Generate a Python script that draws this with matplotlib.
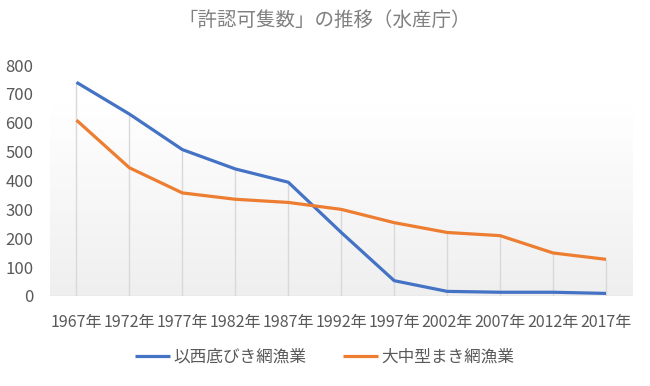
import matplotlib
matplotlib.use("Agg")
import matplotlib.pyplot as plt
import numpy as np
from matplotlib.colors import LinearSegmentedColormap

plt.rcParams['font.family'] = ['Noto Sans CJK JP', 'DejaVu Sans']

years = ["1967年", "1972年", "1977年", "1982年", "1987年", "1992年",
         "1997年", "2002年", "2007年", "2012年", "2017年"]
series_names = ["以西底びき網漁業", "大中型まき網漁業"]
trawl = [740, 630, 507, 440, 394, 220, 53, 16, 13, 13, 9]
purse = [609, 444, 357, 335, 324, 300, 254, 220, 209, 149, 127]
colors = ["#4472C4", "#ED7D31"]

fig = plt.figure(figsize=(6.5, 3.86), dpi=100)
ax = fig.add_axes([50/650, 1 - 296/386, (632.5 - 50)/650, (296 - 65)/386])

x = np.arange(len(years))
ax.set_xlim(-0.5, len(years) - 0.5)
ax.set_ylim(0, 800)

# background gradient
cmap = LinearSegmentedColormap.from_list("g", ["#efefef", "#ffffff"])
grad = np.linspace(0, 1, 256).reshape(-1, 1)
ax.imshow(grad, cmap=cmap, aspect='auto', origin='lower',
          extent=(-0.5, len(years) - 0.5, 0, 660), zorder=0)

# drop lines
tops = np.maximum(trawl, purse)
ax.vlines(x, 0, tops, colors="#d9d9d9", linewidth=1, zorder=1)

for vals, c, n in zip([trawl, purse], colors, series_names):
    ax.plot(x, vals, color=c, linewidth=2.3, label=n, zorder=3,
            solid_capstyle='butt', solid_joinstyle='round')

ax.axhline(0, color="#d9d9d9", linewidth=1, zorder=2)

ax.set_xticks(x)
ax.set_xticklabels(years, fontsize=11.5, color="#595959")
ax.set_yticks(range(0, 801, 100))
ax.tick_params(axis='both', length=0)
ax.tick_params(axis='y', labelsize=12, labelcolor="#595959", pad=12)
ax.tick_params(axis='x', pad=13)
for s in ax.spines.values():
    s.set_visible(False)

fig.text(0.5, 1 - 20/386, "「許認可隻数」の推移（水産庁）", ha='center', va='center',
         fontsize=14, color="#808080")

fig.legend(loc='center', bbox_to_anchor=(0.5, 1 - 357/386), ncol=2, frameon=False,
           fontsize=12, handlelength=2.1, columnspacing=2.2, handletextpad=0.2,
           labelcolor="#595959")

fig.savefig("out.png", dpi=100)
